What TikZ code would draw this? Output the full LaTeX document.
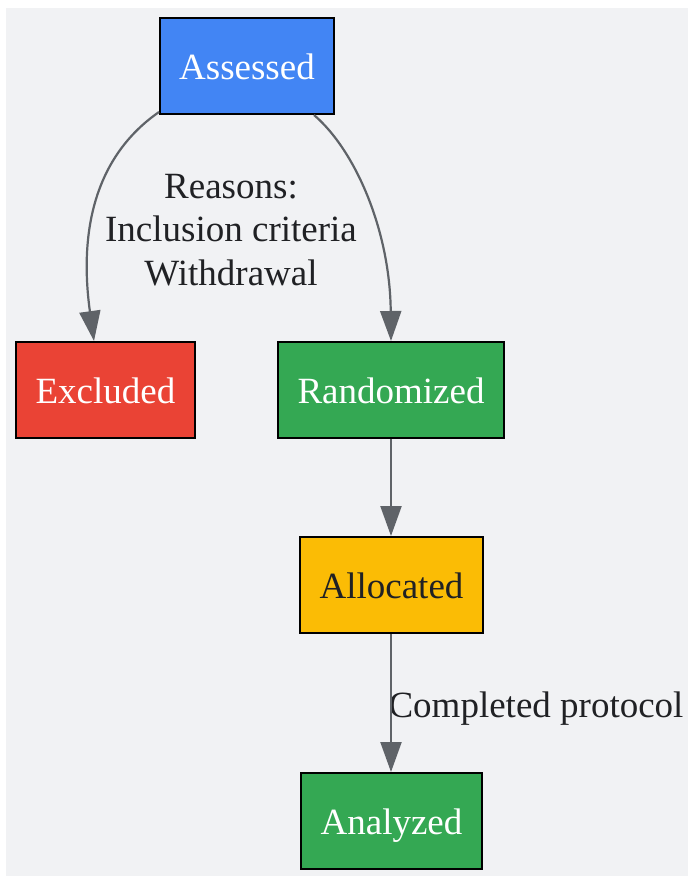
\documentclass[tikz,border=0pt]{standalone}
\usepackage{fontspec}
\setmainfont{Liberation Serif}
\usetikzlibrary{arrows.meta}
\definecolor{bgc}{HTML}{F1F2F4}
\definecolor{gblue}{HTML}{4285F4}
\definecolor{gred}{HTML}{EA4335}
\definecolor{ggreen}{HTML}{34A853}
\definecolor{gyellow}{HTML}{FBBC05}
\definecolor{edgec}{HTML}{5F6368}
\definecolor{darktext}{HTML}{202124}
\tikzset{
  box/.style={draw=black, line width=2pt, inner sep=0pt, minimum height=96pt,
    text height=27.5pt, text depth=0pt,
    font=\fontsize{37}{43.5}\selectfont},
  edge/.style={draw=edgec, line width=2.2pt, -{Triangle[length=30pt,width=21pt]}},
  lbl/.style={text=darktext, align=center, inner sep=0pt, font=\fontsize{37}{43.5}\selectfont}
}
\begin{document}
\begin{tikzpicture}[x=1pt,y=-1pt]
\useasboundingbox (0,0) rectangle (688,876);
\fill[bgc] (6,8) rectangle (688,876);
\node[box, fill=gblue, text=white, minimum width=174pt] (ass) at (247,66) {Assessed};
\node[box, fill=gred, text=white, minimum width=179pt] (exc) at (105.5,390) {Excluded};
\node[box, fill=ggreen, text=white, minimum width=226pt] (ran) at (391,390) {Randomized};
\node[box, fill=gyellow, text=darktext, minimum width=183pt] (all) at (391.5,585) {Allocated};
\node[box, fill=ggreen, text=white, minimum width=181pt] (ana) at (391.5,821) {Analyzed};
\node[lbl] (why) at (231,230) {Reasons:\\Inclusion criteria\\Withdrawal};
\node[lbl] (cp) at (536,709) {Completed protocol};
\draw[edge] ([yshift=3pt]ass.south west) .. controls (90,160) and (80,240) .. ([xshift=-11.5pt]exc.north);
\draw[edge] ([xshift=67pt]ass.south) .. controls (355,150) and (390,230) .. (ran.north);
\draw[edge] (ran.south) -- ([xshift=-0.5pt]all.north);
\draw[edge] ([xshift=-0.5pt]all.south) -- ([xshift=-0.5pt]ana.north);
\end{tikzpicture}
\end{document}
